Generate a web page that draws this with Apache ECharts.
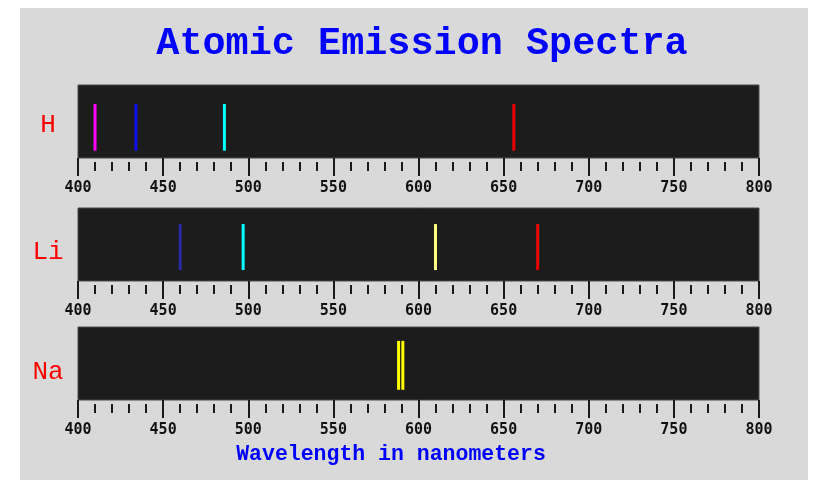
<!DOCTYPE html>
<html><head><meta charset="utf-8">
<script src="https://cdn.jsdelivr.net/npm/echarts@6/dist/echarts.min.js"></script>
<style>html,body{margin:0;padding:0;background:#fff}#c{width:816px;height:480px}</style>
</head><body><div id="c"></div>
<script>
// ---- data ----
const titleText = 'Atomic Emission Spectra';
const axisTitle = 'Wavelength in nanometers';
const elements = ['H', 'Li', 'Na'];
const H_nm = [410, 434, 486, 656];
const H_colors = ['#ff00ff', '#1010ee', '#00ffff', '#ee0000'];
const Li_nm = [460, 497, 610, 670];
const Li_colors = ['#2a2aa8', '#00ffff', '#ffff80', '#ee0000'];
const Na_nm = [588.3, 590.8];
const Na_colors = ['#ffff00', '#ffff00'];
const axisMin = 400, axisMax = 800, axisStep = 50;

const spectra = [[H_nm, H_colors], [Li_nm, Li_colors], [Na_nm, Na_colors]];
// vertical extent of lines inside each panel (fraction of panel height)
const lineSpan = [[0.10, 0.74], [0.15, 0.78], [0.14, 0.81]];
const gridTops = [85, 208, 327];
const gridH = 73;
const mono = '"Liberation Mono", "DejaVu Sans Mono", monospace';

const grids = [], xAxes = [], yAxes = [], series = [];
spectra.forEach((sp, i) => {
  grids.push({left: 78, right: 57, top: gridTops[i], height: gridH, show: true,
    backgroundColor: '#1c1c1c', borderColor: '#4a4a4a', borderWidth: 1});
  xAxes.push({type: 'value', gridIndex: i, position: 'bottom', min: axisMin, max: axisMax, interval: axisStep,
    axisLine: {show: false}, splitLine: {show: false},
    axisTick: {show: true, length: 18, lineStyle: {color: '#1a1a1a', width: 2}},
    axisLabel: {show: true, margin: 23, color: '#111', fontSize: 15, fontWeight: 'bold',
      fontFamily: '"DejaVu Sans Mono", monospace', showMinLabel: true, showMaxLabel: true}});
  xAxes.push({type: 'value', gridIndex: i, position: 'bottom', min: axisMin, max: axisMax, interval: axisStep, offset: 4,
    axisLine: {show: false}, splitLine: {show: false}, axisTick: {show: false},
    axisLabel: {show: false},
    minorTick: {show: true, splitNumber: 5, length: 9, lineStyle: {color: '#1a1a1a', width: 2}}});
  yAxes.push({type: 'value', gridIndex: i, min: 0, max: 1, show: false});
  const span = lineSpan[i];
  series.push({
    type: 'custom', xAxisIndex: i * 2, yAxisIndex: i,
    data: sp[0].map((v, k) => ({value: [v], itemStyle: {color: sp[1][k]}})),
    renderItem: function (params, api) {
      const p0 = api.coord([api.value(0), span[0]]);
      const p1 = api.coord([api.value(0), span[1]]);
      return {type: 'rect', shape: {x: p0[0] - 1.5, y: p1[1], width: 3, height: p0[1] - p1[1]},
        style: {fill: api.visual('color')}};
    }
  });
});

const labelY = [125, 252, 372];
const graphics = [
  {type: 'rect', z: -10, shape: {x: 20, y: 8, width: 788, height: 472}, style: {fill: '#d9d9d9'}},
  {type: 'text', x: 422, y: 44, style: {text: titleText, fill: '#0000ff', font: 'bold 38.5px ' + mono,
    textAlign: 'center', textVerticalAlign: 'middle'}},
  {type: 'text', x: 391, y: 455, style: {text: axisTitle, fill: '#0000ff', font: 'bold 21.5px ' + mono,
    textAlign: 'center', textVerticalAlign: 'middle'}}
];
elements.forEach((e, i) => {
  graphics.push({type: 'text', x: 48, y: labelY[i], style: {text: e, fill: '#ff0000',
    font: '26px ' + mono, textAlign: 'center', textVerticalAlign: 'middle'}});
});

const chart = echarts.init(document.getElementById('c'));
chart.setOption({
  animation: false,
  grid: grids, xAxis: xAxes, yAxis: yAxes, series: series, graphic: graphics
});
</script></body></html>
